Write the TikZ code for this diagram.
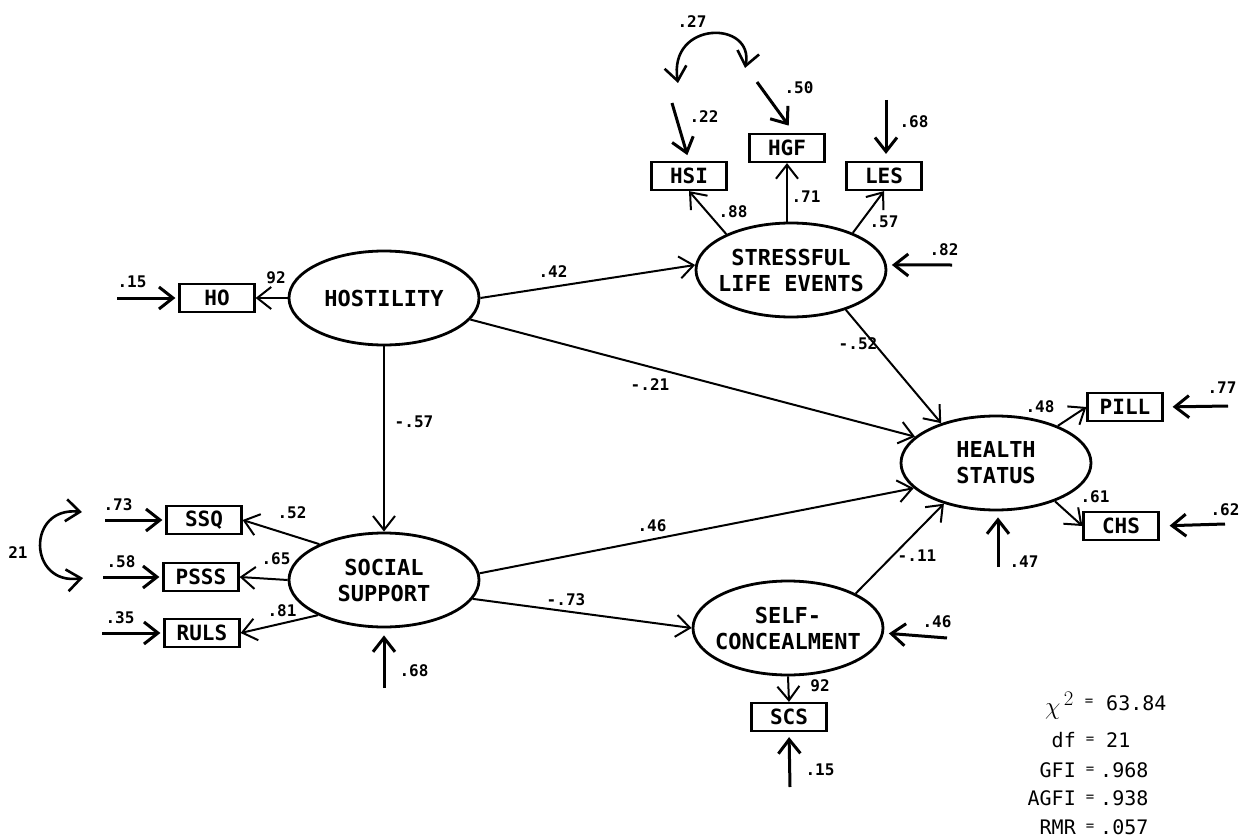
\documentclass[tikz,border=0pt]{standalone}
\usepackage{fontspec}
\setmainfont{DejaVu Sans Mono}
\usetikzlibrary{shapes.geometric,arrows.meta}
\newcommand{\zl}[1]{\makebox[0pt][c]{#1}}
\begin{document}
\begin{tikzpicture}[x=1pt,y=-1pt,
  lat/.style={ellipse,draw,line width=2.8pt,minimum width=190pt,minimum height=94pt,inner sep=0pt,align=center,font=\fontsize{22}{26}\selectfont\bfseries},
  obs/.style={rectangle,draw,line width=2.2pt,minimum width=75pt,minimum height=28pt,inner sep=0pt,font=\fontsize{21}{22}\selectfont\bfseries},
  conn/.style={line width=2pt,-{Straight Barb[length=14pt,width=22pt]}},
  err/.style={line width=3pt,-{Straight Barb[length=14pt,width=22pt]}},
  cor/.style={line width=2.6pt,{Straight Barb[length=14pt,width=22pt]}-{Straight Barb[length=14pt,width=22pt]}},
  lbl/.style={font=\fontsize{16}{18}\selectfont\bfseries,inner sep=1pt},
  st/.style={font=\fontsize{20}{22}\selectfont,inner sep=0pt},
  eq/.style={font=\fontsize{14}{16}\selectfont,inner sep=0pt}
]
\fill[white] (0,0) rectangle (1243,840);
\useasboundingbox (0,0) rectangle (1243,840);

% latent variables
\node[lat] (hos) at (384,298) {\zl{HOSTILITY}};
\node[lat] (sle) at (791,270) {\zl{STRESSFUL}\\\zl{LIFE EVENTS}};
\node[lat] (hs)  at (996,463) {\zl{HEALTH}\\\zl{STATUS}};
\node[lat] (ss)  at (384,580) {\zl{SOCIAL}\\\zl{SUPPORT}};
\node[lat] (sc)  at (788,628) {\zl{SELF-}\\\zl{CONCEALMENT}};

% observed variables
\node[obs] (ho)   at (217,298) {HO};
\node[obs] (hsi)  at (689,176) {HSI};
\node[obs] (hgf)  at (787,148) {HGF};
\node[obs] (les)  at (884,176) {LES};
\node[obs] (pill) at (1125,407) {PILL};
\node[obs] (chs)  at (1121,526) {CHS};
\node[obs] (ssq)  at (204,520) {SSQ};
\node[obs] (psss) at (201,577) {PSSS};
\node[obs] (ruls) at (202,633) {RULS};
\node[obs] (scs)  at (789,717) {SCS};

% error term starting points
\coordinate (eho) at (117,298);
\coordinate (e22) at (672,103);
\coordinate (e50) at (757,82);
\coordinate (e68a) at (886,100);
\coordinate (e82) at (952,265);
\coordinate (e77) at (1228,406);
\coordinate (e62) at (1225,524);
\coordinate (e47) at (998,567);
\coordinate (e73) at (105,520);
\coordinate (e58) at (103,577);
\coordinate (e35) at (102,633);
\coordinate (e68b) at (384,688);
\coordinate (e46) at (947,638);
\coordinate (e15b) at (790,787);
\coordinate (c27a) at (678,83);
\coordinate (c27b) at (745,68);
\coordinate (c21a) at (82,512);
\coordinate (c21b) at (83,578);

% structural and measurement paths
\draw[conn] (hos.west) -- (ho.east);
\draw[conn] (hos.east) -- (sle.177);
\draw[conn] (hos.-14) -- (hs.162);
\draw[conn] (hos.south) -- (ss.north);
\draw[conn] (sle.151) -- (hsi.south);
\draw[conn] (sle.north -| hgf.south) -- (hgf.south);
\draw[conn] (sle.31) -- (les.south);
\draw[conn] (sle.-36) -- (hs.144);
\draw[conn] (hs.31) -- (pill.west);
\draw[conn] (hs.-33) -- (chs.west);
\draw[conn] (ss.151) -- (ssq.east);
\draw[conn] (ss.west) -- (psss.east);
\draw[conn] (ss.208) -- (ruls.east);
\draw[conn] (ss.4) -- (hs.197);
\draw[conn] (ss.-12) -- (sc.west);
\draw[conn] (sc.27) -- (hs.218);
\draw[conn] (sc.south) -- (scs.north);

% error arrows
\draw[err,shorten >=3pt] (eho) -- (ho.west);
\draw[err,shorten >=6pt] (e22) -- (hsi.north);
\draw[err,shorten >=9pt] (e50) -- ([xshift=7pt]hgf.north);
\draw[err,shorten >=7pt] (e68a) -- (e68a |- les.north);
\draw[err,shorten >=5pt] (e82) -- (sle.3);
\draw[err,shorten >=9pt] (e77) -- (pill.east);
\draw[err,shorten >=10pt] (e62) -- (chs.east);
\draw[err,shorten >=6pt] (e47) -- (e47 |- hs.south);
\draw[err,shorten >=3pt] (e73) -- (ssq.west);
\draw[err,shorten >=3pt] (e58) -- (psss.west);
\draw[err,shorten >=3pt] (e35) -- (ruls.west);
\draw[err,shorten >=7pt] (e68b) -- (ss.south);
\draw[err,shorten >=5pt] (e46) -- (sc.-3);
\draw[err,shorten >=5pt] (e15b) -- (scs.south);

% correlations
\draw[cor] (c27a) .. controls (668,20) and (755,20) .. (c27b);
\draw[cor] (c21a) .. controls (26,506) and (28,586) .. (c21b);

% labels
\node[lbl] (l27) at (692,22) {.27};
\node[lbl] (l22) at (704,117) {.22};
\node[lbl] (l50) at (799,88) {.50};
\node[lbl] (l68a) at (914,122) {.68};
\node[lbl] (l88) at (733,212) {.88};
\node[lbl] (l71) at (806,197) {.71};
\node[lbl] (l57) at (884,222) {.57};
\node[lbl] (l82) at (944,250) {.82};
\node[lbl] (l15a) at (132,282) {.15};
\node[lbl] (l92a) at (276,278) {92};
\node[lbl] (l42) at (553,272) {.42};
\node[lbl] (l21m) at (650,385) {-.21};
\node[lbl] (l52m) at (858,344) {-.52};
\node[lbl] (l57m) at (414,422) {-.57};
\node[lbl] (l48) at (1040,407) {.48};
\node[lbl] (l77) at (1222,388) {.77};
\node[lbl] (l61) at (1095,497) {.61};
\node[lbl] (l62) at (1225,510) {.62};
\node[lbl] (l47) at (1024,562) {.47};
\node[lbl] (l73) at (118,505) {.73};
\node[lbl] (l58) at (121,562) {.58};
\node[lbl] (l35) at (120,618) {.35};
\node[lbl] (l21) at (18,553) {21};
\node[lbl] (l52) at (292,513) {.52};
\node[lbl] (l65) at (276,559) {.65};
\node[lbl] (l81) at (282,611) {.81};
\node[lbl] (l68b) at (414,671) {.68};
\node[lbl] (l46a) at (652,526) {.46};
\node[lbl] (l73m) at (566,600) {-.73};
\node[lbl] (l11m) at (917,556) {-.11};
\node[lbl] (l46b) at (937,622) {.46};
\node[lbl] (l92b) at (820,686) {92};
\node[lbl] (l15b) at (820,770) {.15};

% fit statistics
\node[st,anchor=east] (chi) at (1074,706) {\fontsize{30}{32}\selectfont$\chi^{\,2}$};
\node[eq] (q1) at (1089,702) {=};
\node[st,anchor=west] (v1) at (1106,703) {63.84};
\node[st,anchor=east] (k2) at (1076,740) {df};
\node[eq] (q2) at (1090,740) {=};
\node[st,anchor=west] (v2) at (1106,740) {21};
\node[st,anchor=east] (k3) at (1076,770) {GFI};
\node[eq] (q3) at (1090,770) {=};
\node[st,anchor=west] (v3) at (1100,770) {.968};
\node[st,anchor=east] (k4) at (1076,798) {AGFI};
\node[eq] (q4) at (1090,798) {=};
\node[st,anchor=west] (v4) at (1100,798) {.938};
\node[st,anchor=east] (k5) at (1076,827) {RMR};
\node[eq] (q5) at (1090,827) {=};
\node[st,anchor=west] (v5) at (1100,827) {.057};
\end{tikzpicture}
\end{document}
